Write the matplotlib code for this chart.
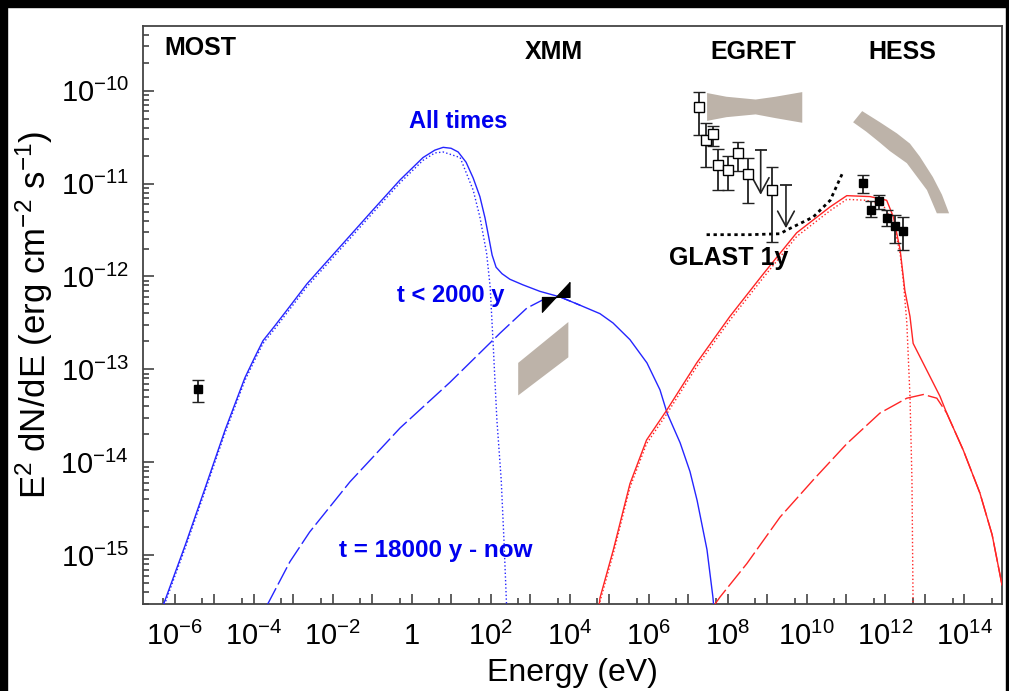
import numpy as np
import matplotlib
matplotlib.use('Agg')
import matplotlib.pyplot as plt
from matplotlib.patches import Polygon, Rectangle
from matplotlib.ticker import FixedLocator, FuncFormatter, NullFormatter

plt.rcParams['font.family'] = ['Liberation Sans', 'DejaVu Sans']
plt.rcParams['mathtext.fontset'] = 'custom'
plt.rcParams['mathtext.rm'] = 'Liberation Sans'
plt.rcParams['mathtext.it'] = 'Liberation Sans:italic'
plt.rcParams['mathtext.bf'] = 'Liberation Sans:bold'

# all values are log10(E / eV) and log10(E^2 dN/dE / erg cm^-2 s^-1)

# synchrotron, electrons of all ages
sync_all_E = [-6.29, -5.73, -5.23, -4.72, -4.22, -3.96, -3.76, -3.46, -3.08, -2.65,
              -1.81, -0.97, -0.29, 0.29, 0.59, 0.80, 1.00, 1.18, 1.38, 1.56,
              1.73, 1.86, 1.96, 2.04, 2.14, 2.29, 2.49, 2.82, 3.25, 3.76,
              4.27, 4.77, 5.10, 5.53, 5.96, 6.29, 6.47, 6.80, 7.05, 7.23,
              7.48, 7.63, 7.66]
sync_all_F = [-15.54, -14.89, -14.28, -13.65, -13.09, -12.86, -12.69, -12.53, -12.32, -12.08,
              -11.68, -11.28, -10.96, -10.72, -10.64, -10.61, -10.62, -10.66, -10.77, -10.94,
              -11.14, -11.37, -11.59, -11.77, -11.90, -11.97, -12.03, -12.09, -12.16, -12.22,
              -12.31, -12.40, -12.50, -12.68, -12.93, -13.22, -13.47, -13.79, -14.10, -14.41,
              -14.94, -15.45, -15.59]

# synchrotron, electrons injected before 2000 yr
sync_old_E = [-6.29, -5.73, -5.23, -4.72, -4.22, -3.96, -3.76, -3.46, -3.08, -2.65,
              -1.81, -0.97, -0.29, 0.29, 0.59, 0.80, 1.23, 1.56, 1.73, 1.90,
              1.99, 2.07, 2.16, 2.27, 2.34, 2.41]
sync_old_F = [-15.57, -14.92, -14.31, -13.68, -13.12, -12.89, -12.72, -12.56, -12.35, -12.11,
              -11.71, -11.31, -10.99, -10.75, -10.67, -10.66, -10.72, -11.07, -11.36, -11.75,
              -12.11, -12.76, -13.54, -14.19, -14.84, -15.59]

# synchrotron, electrons from 18000 yr to now
sync_new_E = [-3.66, -3.08, -2.58, -1.56, -0.29, 0.97, 2.24, 2.92, 3.33, 3.76, 4.27]
sync_new_F = [-15.54, -15.07, -14.75, -14.21, -13.63, -13.14, -12.61, -12.34, -12.25, -12.22, -12.31]

# inverse Compton, all ages
ic_all_E = [4.75, 4.77, 5.11, 5.53, 5.95, 6.46, 7.22, 8.06, 8.91, 9.75,
            10.60, 11.02, 11.61, 12.03, 12.20, 12.37, 12.49, 12.62, 12.70, 13.13,
            13.38, 13.55, 13.97, 14.39, 14.70, 14.95]
ic_all_F = [-15.54, -15.46, -14.94, -14.23, -13.76, -13.44, -12.93, -12.43, -11.97, -11.53,
            -11.25, -11.13, -11.14, -11.18, -11.36, -11.71, -12.15, -12.43, -12.72, -13.08,
            -13.29, -13.47, -13.87, -14.33, -14.78, -15.32]

# inverse Compton, before 2000 yr
ic_old_E = [4.75, 4.77, 5.11, 5.53, 5.95, 6.46, 7.22, 8.06, 8.91, 9.75,
            10.60, 11.02, 11.52, 11.94, 12.20, 12.37, 12.45, 12.54, 12.62, 12.67, 12.70]
ic_old_F = [-15.58, -15.50, -14.98, -14.27, -13.80, -13.48, -12.97, -12.47, -12.01, -11.57,
            -11.29, -11.17, -11.18, -11.23, -11.43, -11.75, -12.04, -12.50, -13.29, -14.19, -15.59]

# inverse Compton, 18000 yr to now
ic_new_E = [7.66, 7.81, 8.49, 9.33, 10.17, 11.02, 11.86, 12.54, 12.96, 13.30, 13.55, 13.97, 14.39, 14.70, 14.95]
ic_new_F = [-15.54, -15.45, -15.09, -14.59, -14.19, -13.80, -13.47, -13.31, -13.27, -13.31, -13.47,
            -13.87, -14.33, -14.78, -15.32]

# GLAST 1 year sensitivity
glast_E = [7.47, 8.57, 9.33, 9.50, 10.17, 10.60, 10.93]
glast_F = [-11.55, -11.55, -11.54, -11.50, -11.36, -11.18, -10.87]

# MOST radio point
most_E = [-5.41]
most_F = [-13.21]
most_hi = [-13.11]
most_lo = [-13.35]

# XMM bowtie: edges at 2 and 10 keV
xmm_E = [3.30, 4.00]
xmm_steep_F = [-12.38, -12.06]
xmm_flat_F = [-12.22, -12.22]

# diffuse X-ray band
xband_E = [2.70, 3.97, 3.97, 2.70]
xband_F = [-12.93, -12.49, -12.87, -13.28]

# EGRET points
egret_E = [7.29, 7.46, 7.63, 7.77, 8.02, 8.27, 8.53, 9.13]
egret_F = [-10.18, -10.53, -10.47, -10.80, -10.85, -10.67, -10.90, -11.07]
egret_hi = [-10.01, -10.35, -10.38, -10.63, -10.70, -10.55, -10.72, -10.82]
egret_lo = [-10.48, -10.82, -10.60, -11.07, -11.07, -10.86, -11.21, -11.63]
egret_ul_E = [8.84, 9.48]
egret_ul_top = [-10.64, -11.02]
egret_ul_F = [-11.12, -11.48]

# EGRET butterfly
egret_bt_E = [7.47, 7.96, 8.70, 9.20, 9.88]
egret_bt_top = [-10.02, -10.06, -10.09, -10.06, -10.01]
egret_bt_bot = [-10.32, -10.28, -10.25, -10.29, -10.34]

# HESS points
hess_E = [11.44, 11.63, 11.84, 12.05, 12.24, 12.45]
hess_F = [-10.99, -11.28, -11.19, -11.37, -11.46, -11.51]
hess_hi = [-10.91, -11.19, -11.12, -11.28, -11.34, -11.36]
hess_lo = [-11.10, -11.36, -11.27, -11.46, -11.64, -11.71]

# HESS band outline
hess_band_E = [11.18, 11.41, 11.86, 12.29, 12.62, 12.87, 13.20, 13.43, 13.61,
               13.30, 13.05, 12.54, 12.11, 11.86, 11.51]
hess_band_F = [-10.34, -10.22, -10.34, -10.46, -10.57, -10.71, -10.93, -11.12, -11.32,
               -11.32, -11.07, -10.78, -10.65, -10.56, -10.44]

blue = '#2525ff'
red = '#ff2525'
band = '#bdb3a9'


def p(v):
    return 10.0 ** np.asarray(v)


fig = plt.figure(figsize=(10.09, 6.91), dpi=100)
ax = fig.add_axes([143 / 1009, 1 - 604 / 691, 859 / 1009, 578 / 691])

# gray bands
ax.add_patch(Polygon(np.column_stack([p(xband_E), p(xband_F)]), closed=True,
                     facecolor=band, edgecolor='none', zorder=1))
ax.fill_between(p(egret_bt_E), p(egret_bt_bot), p(egret_bt_top), color=band, lw=0, zorder=1)
ax.add_patch(Polygon(np.column_stack([p(hess_band_E), p(hess_band_F)]), closed=True,
                     facecolor=band, edgecolor='none', zorder=1))

# model curves
ax.plot(p(sync_all_E), p(sync_all_F), color=blue, lw=1.0, zorder=3)
ax.plot(p(sync_old_E), p(sync_old_F), color=blue, lw=1.0, ls=':', zorder=3)
ax.plot(p(sync_new_E), p(sync_new_F), color=blue, lw=1.0, dashes=(14, 3), zorder=3)
ax.plot(p(ic_all_E), p(ic_all_F), color=red, lw=1.0, zorder=3)
ax.plot(p(ic_old_E), p(ic_old_F), color=red, lw=1.0, ls=':', zorder=3)
ax.plot(p(ic_new_E), p(ic_new_F), color=red, lw=1.0, dashes=(14, 3), zorder=3)

ax.plot(p(glast_E), p(glast_F), color='black', lw=2.0, dashes=(1.2, 1.3), zorder=4)

# XMM bowtie
xe = np.linspace(xmm_E[0], xmm_E[1], 50)
steep = np.interp(xe, xmm_E, xmm_steep_F)
flat = np.interp(xe, xmm_E, xmm_flat_F)
ax.fill_between(p(xe), p(np.minimum(steep, flat)), p(np.maximum(steep, flat)),
                color='black', lw=0.8, zorder=5)


# data points
def points(E, F, hi, lo, face, size):
    E, F, hi, lo = p(E), p(F), p(hi), p(lo)
    ax.errorbar(E, F, yerr=[F - lo, hi - F], fmt='s', ms=size, mfc=face, mec='black',
                mew=1.0, ecolor='#222222', elinewidth=1.3, capsize=4.5, capthick=1.3, zorder=6)


points(most_E, most_F, most_hi, most_lo, 'black', 6)
points(egret_E, egret_F, egret_hi, egret_lo, 'white', 7.5)
points(hess_E, hess_F, hess_hi, hess_lo, 'black', 6)

for e, top, ul in zip(egret_ul_E, egret_ul_top, egret_ul_F):
    ax.plot([p(e)], [p(top)], marker='_', ms=9, mew=1.3, color='#222222', zorder=6)
    ax.annotate('', xy=(p(e), p(ul)), xytext=(p(e), p(top)),
                arrowprops=dict(arrowstyle='->,head_length=1.1,head_width=0.6',
                                color='#222222', lw=1.2, shrinkA=0, shrinkB=0), zorder=6)

# labels
bold = dict(fontweight='bold', ha='center', va='center')
ax.text(p(-5.35), p(-9.54), 'MOST', fontsize=18, **bold)
ax.text(p(3.61), p(-9.58), 'XMM', fontsize=18, **bold)
ax.text(p(8.65), p(-9.58), 'EGRET', fontsize=18, **bold)
ax.text(p(12.42), p(-9.58), 'HESS', fontsize=18, **bold)
ax.text(p(1.18), p(-10.33), 'All times', fontsize=17, color='#0000ee', **bold)
ax.text(p(1.0), p(-12.20), 't < 2000 y', fontsize=17, color='#0000ee', **bold)
ax.text(p(0.62), p(-14.95), 't = 18000 y - now', fontsize=17.5, color='#0000ee', **bold)
ax.text(p(8.04), p(-11.80), 'GLAST 1y', fontsize=18, **bold)

ax.set_xscale('log')
ax.set_yscale('log')
ax.set_xlim(10 ** -6.8, 10 ** 14.95)
ax.set_ylim(10 ** -15.525, 10 ** -9.304)


def xfmt(v, pos):
    n = int(round(np.log10(v)))
    if n % 2:
        return ''
    if n == 0:
        return '1'
    return '10$^{%d}$' % n


def yfmt(v, pos):
    n = int(round(np.log10(v)))
    return '10$^{%d}$' % n


ax.xaxis.set_major_locator(FixedLocator([10.0 ** n for n in range(-7, 16)]))
ax.xaxis.set_minor_locator(FixedLocator([5 * 10.0 ** n for n in range(-7, 15)]))
ax.xaxis.set_major_formatter(FuncFormatter(xfmt))
ax.xaxis.set_minor_formatter(NullFormatter())
ax.yaxis.set_major_locator(FixedLocator([10.0 ** n for n in range(-16, -8)]))
ax.yaxis.set_minor_locator(FixedLocator([k * 10.0 ** n for n in range(-16, -9) for k in range(2, 10)]))
ax.yaxis.set_major_formatter(FuncFormatter(yfmt))
ax.yaxis.set_minor_formatter(NullFormatter())

ax.tick_params(which='both', direction='in', top=False, right=False, colors='#444444',
               labelcolor='black', labelsize=21)
ax.tick_params(axis='x', which='major', length=7, width=1.2, pad=13)
ax.tick_params(axis='y', which='major', length=8, width=1.2, pad=10)
ax.tick_params(which='minor', length=4, width=1.2)
for s in ax.spines.values():
    s.set_color('#444444')
    s.set_linewidth(1.3)

ax.set_xlabel('Energy (eV)', fontsize=23, labelpad=5)
ax.set_ylabel('E$^2$ dN/dE (erg cm$^{-2}$ s$^{-1}$)', fontsize=25, labelpad=4)

# frame strips along the image edges
fig.add_artist(Rectangle((0, 1 - 7 / 691), 1, 7 / 691, transform=fig.transFigure,
                         color='black', zorder=10))
fig.add_artist(Rectangle((0, 0), 7 / 1009, 1, transform=fig.transFigure,
                         color='black', zorder=10))
fig.add_artist(Rectangle((1 - 3 / 1009, 0), 3 / 1009, 1, transform=fig.transFigure,
                         color='black', zorder=10))

fig.savefig('out.png', dpi=100)
